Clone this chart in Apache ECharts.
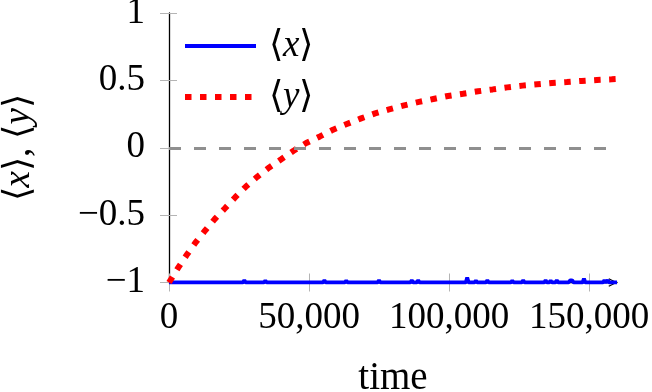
<!DOCTYPE html>
<html>
<head>
<meta charset="utf-8">
<script src="https://cdn.jsdelivr.net/npm/echarts@6/dist/echarts.min.js"></script>
<style>
html,body{margin:0;padding:0;background:#fff;}
#c{width:652px;height:392px;}
</style>
</head>
<body>
<div id="c"></div>
<script>
// ---- data ----
var seriesNames = ['x', 'y'];
var yTickValues = [-1, -0.5, 0, 0.5, 1];
var yTickLabels = ['\u22121', '\u22120.5', '0', '0.5', '1'];
var xTickValues = [0, 50000, 100000, 150000];
var xTickLabels = ['0', '50,000', '100,000', '150,000'];

var redT = [0, 3300, 6500, 9600, 13000, 16400, 20000, 23600, 27400, 31500, 35800, 40200, 44500, 49000, 53900, 58600, 63500, 68600, 73600, 78600, 84000, 89300, 94400, 99600, 105000, 110400, 115600, 120800, 126200, 131500, 136800, 142100, 147400, 152800, 158100, 160000];
var redY = [-1, -0.89, -0.79, -0.70, -0.612, -0.528, -0.449, -0.369, -0.29, -0.216, -0.146, -0.084, -0.022, 0.035, 0.084, 0.134, 0.176, 0.218, 0.255, 0.285, 0.315, 0.34, 0.362, 0.384, 0.401, 0.419, 0.433, 0.448, 0.461, 0.471, 0.481, 0.488, 0.496, 0.503, 0.508, 0.510];

var blueT = [0, 26400, 26900, 27400, 33900, 34400, 34900, 55000, 55500, 56000, 62800, 63300, 63800, 74500, 75000, 75500, 86200, 86700, 87200, 88500, 89000, 89500, 106000, 106500, 107000, 109100, 109600, 110100, 113200, 113700, 114200, 122100, 122600, 123100, 126000, 126500, 127000, 134000, 134500, 135000, 135800, 136300, 136800, 138000, 138500, 139000, 142700, 143200, 143600, 144000, 144500, 147700, 148200, 148700, 155000, 155500, 156000, 156200, 156700, 157200, 160000];
var blueY = [-1, -1, -0.983, -1, -1, -0.985, -1, -1, -0.984, -1, -1, -0.985, -1, -1, -0.984, -1, -1, -0.984, -1, -1, -0.984, -1, -1, -0.962, -1, -1, -0.985, -1, -1, -0.984, -1, -1, -0.985, -1, -1, -0.984, -1, -1, -0.984, -1, -1, -0.985, -1, -1, -0.984, -1, -1, -0.985, -0.99, -0.984, -1, -1, -0.972, -1, -1, -0.984, -1, -1, -0.984, -1, -1];

function zip(a, b) { return a.map(function (v, i) { return [v, b[i]]; }); }

var FONT = 'Liberation Serif';
var FS = 37;
var richStyles = {
  n: { fontFamily: FONT, fontSize: FS, fontStyle: 'normal', color: '#000', lineHeight: 40 },
  i: { fontFamily: FONT, fontSize: FS, fontStyle: 'italic', color: '#000', lineHeight: 40 }
};
var tickColor = '#b4b4b4';
var blueLine = { color: '#0000ff', width: 3.8, type: 'solid' };
var redLine = { color: '#ff0000', width: 6, type: [6.5, 8.5], cap: 'butt' };

var chart = echarts.init(document.getElementById('c'), null, { renderer: 'canvas' });
var xCommon = { type: 'value', min: 0, max: 160000, interval: 50000, splitLine: { show: false } };
var yCommon = { type: 'value', min: -1, max: 1, interval: 0.5, splitLine: { show: false } };

chart.setOption({
  animation: false,
  backgroundColor: '#fff',
  grid: { left: 169, right: 35, top: 13, height: 269.5, containLabel: false, outerBoundsMode: 'none' },
  legend: {
    data: [
      { name: seriesNames[0], lineStyle: blueLine },
      { name: seriesNames[1], lineStyle: redLine }
    ],
    orient: 'vertical',
    left: 182, top: 26,
    padding: 0,
    itemWidth: 71, itemHeight: 40, itemGap: 11,
    selectedMode: false,
    itemStyle: { opacity: 0 },
    formatter: function (name) { return '{n|\u27E8}{i|' + name + '}{n|\u27E9}'; },
    textStyle: { fontFamily: FONT, fontSize: FS, lineHeight: 40, padding: [0, 0, 0, 8], rich: richStyles }
  },
  xAxis: [
    Object.assign({}, xCommon, {
      position: 'bottom',
      name: 'time', nameLocation: 'middle', nameGap: 77,
      nameTextStyle: { fontFamily: FONT, fontSize: 39, color: '#000' },
      axisLine: { show: true, onZero: false, lineStyle: { color: '#000', width: 1.3 },
        symbol: ['none', 'path://M0,10 L5,0 L10,10 L8.8,10.6 L5,2.6 L1.2,10.6 Z'], symbolSize: [14, 9], symbolOffset: [0, -4] },
      axisTick: { show: true, inside: false, length: 9, lineStyle: { color: tickColor, width: 1 }, customValues: xTickValues },
      axisLabel: { show: true, margin: 17, fontFamily: FONT, fontSize: FS, color: '#000', customValues: xTickValues,
        formatter: function (v) { var i = xTickValues.indexOf(v); return i >= 0 ? xTickLabels[i] : ''; } }
    }),
    Object.assign({}, xCommon, {
      position: 'bottom',
      axisLine: { show: false, onZero: false },
      axisTick: { show: true, inside: true, length: 9, lineStyle: { color: tickColor, width: 1 }, customValues: xTickValues },
      axisLabel: { show: false }
    })
  ],
  yAxis: [
    Object.assign({}, yCommon, {
      position: 'left',
      name: '{n|\u27E8}{i|x}{n|\u27E9}{n|, }{n|\u27E8}{i|y}{n|\u27E9}',
      nameLocation: 'middle', nameGap: 130,
      nameTextStyle: { fontFamily: FONT, fontSize: FS, color: '#000', rich: richStyles },
      axisLine: { show: true, onZero: false, lineStyle: { color: '#000', width: 1.3 } },
      axisTick: { show: true, inside: false, length: 9, lineStyle: { color: tickColor, width: 1 } },
      axisLabel: { show: true, margin: 24, fontFamily: FONT, fontSize: FS, color: '#000',
        formatter: function (v) { var i = yTickValues.indexOf(v); return i >= 0 ? yTickLabels[i] : ''; } }
    }),
    Object.assign({}, yCommon, {
      position: 'left',
      axisLine: { show: false, onZero: false },
      axisTick: { show: true, inside: true, length: 8, lineStyle: { color: tickColor, width: 1 } },
      axisLabel: { show: false }
    })
  ],
  series: [
    {
      name: 'x', type: 'line', xAxisIndex: 0, yAxisIndex: 0,
      data: zip(blueT, blueY), showSymbol: false, symbol: 'none',
      lineStyle: blueLine, itemStyle: { color: '#0000ff' },
      z: 2,
      markLine: {
        silent: true, symbol: ['none', 'none'], label: { show: false },
        lineStyle: { color: '#8f8f8f', width: 2.8, type: [12, 13], cap: 'butt' },
        data: [{ yAxis: 0 }]
      }
    },
    {
      name: 'y', type: 'line', xAxisIndex: 0, yAxisIndex: 0,
      data: zip(redT, redY), showSymbol: false, symbol: 'none',
      lineStyle: redLine, itemStyle: { color: '#ff0000' },
      z: 4
    }
  ]
});
</script>
</body>
</html>
